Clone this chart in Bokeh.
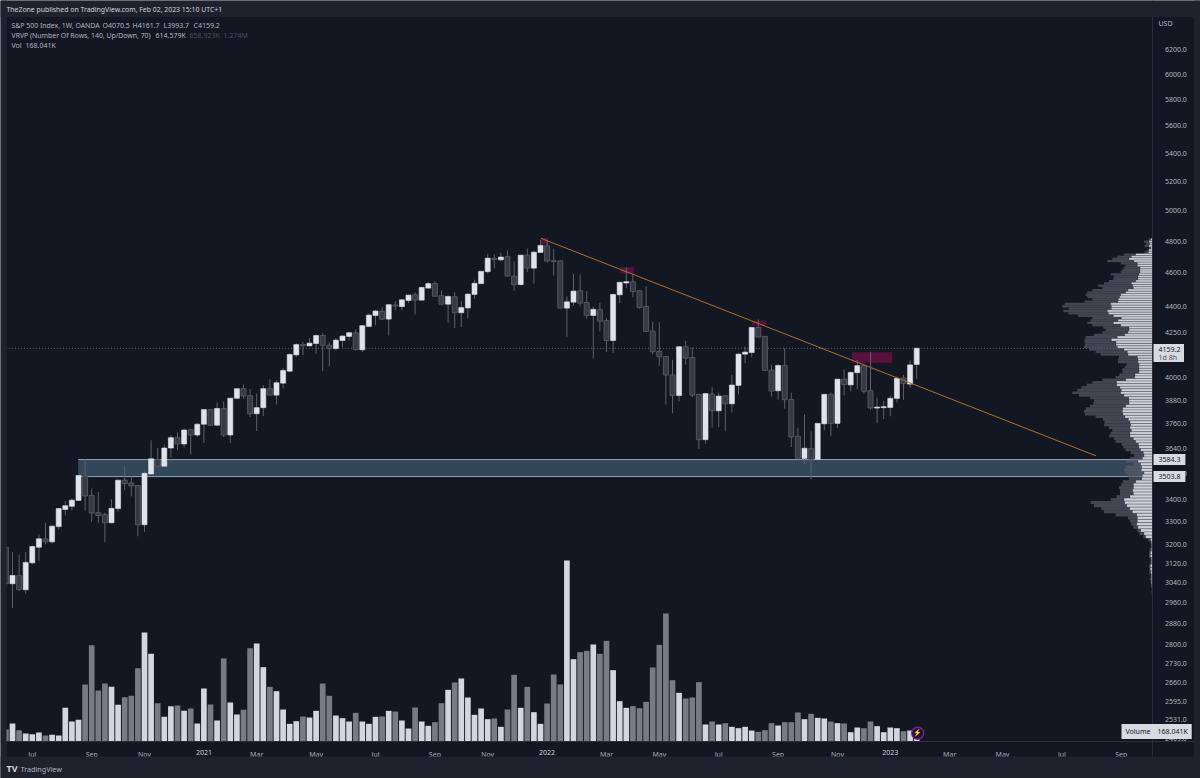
import numpy as np
from bokeh.plotting import figure
from bokeh.models import (Range1d, LinearScale, LinearAxis, FixedTicker, PrintfTickFormatter,
                          Label, BoxAnnotation)
from bokeh.embed import file_html
from bokeh.resources import INLINE

# ---------------- weekly candles (first entry is the bar cut by the left edge)
opens = [3188,
 3036,3069,3012,3122,3188,3224,3211,3277,3353,3367,
 3394,3506,3416,3339,3330,3294,3357,3487,3474,3462,
 3285,3516,3585,3553,3640,3691,3660,3730,3704,3758,
 3832,3753,3838,3704,3890,3941,3904,3811,3842,3941,
 3907,3970,4034,4123,4180,4173,4186,4231,4176,4158,
 4203,4226,4247,4151,4283,4346,4370,4325,4407,4398,
 4434,4468,4436,4508,4535,4462,4412,4456,4362,4390,
 4470,4535,4608,4691,4682,4701,4581,4529,4711,4630,
 4728,4771,4676,4676,4389,4424,4492,4422,4346,4380,
 4317,4203,4468,4539,4547,4492,4398,4256,4142,4114,
 4014,3905,4168,4108,3911,3681,3913,3826,3904,3862,
 3958,4127,4136,4277,4226,4040,3930,4065,3884,3698,
 3590,3637,3585,3760,3911,3762,3991,3961,4026,4065,
 3930,3840,3842,3843,3890,3998,3965,4070.5]
highs = [3188,
 3167,3157,3167,3195,3243,3294,3283,3357,3391,3402,
 3509,3588,3448,3432,3339,3399,3489,3552,3505,3462,
 3528,3678,3640,3657,3703,3716,3732,3735,3763,3832,
 3832,3869,3874,3891,3941,3963,3939,3915,3960,3990,
 3984,4052,4132,4188,4195,4218,4237,4244,4193,4216,
 4233,4250,4267,4287,4356,4376,4395,4412,4430,4442,
 4466,4482,4514,4545,4549,4494,4464,4484,4430,4474,
 4559,4612,4720,4716,4726,4741,4672,4711,4752,4737,
 4810,4810,4752,4676,4458,4593,4591,4490,4398,4420,
 4330,4470,4545,4634,4596,4494,4518,4311,4307,4114,
 4096,4168,4201,4165,3911,3915,3948,3920,3904,4014,
 4132,4170,4279,4323,4226,4069,4074,4160,3920,3740,
 3807,3722,3762,3911,3920,3993,4043,4033,4096,4074,
 4140,3893,3875,3904,4005,4014,4092,4161.7]
lows = [3036,
 2939,3006,2996,3116,3129,3200,3203,3264,3326,3349,
 3391,3349,3297,3294,3210,3292,3342,3440,3412,3235,
 3254,3513,3546,3549,3593,3629,3642,3609,3694,3665,
 3750,3750,3694,3665,3888,3888,3794,3724,3799,3907,
 3859,3942,4031,4112,4121,4170,4129,4034,4061,4147,
 4165,4203,4147,4138,4279,4290,4321,4231,4376,4376,
 4418,4352,4434,4504,4458,4411,4304,4273,4279,4329,
 4444,4535,4596,4628,4672,4579,4492,4526,4606,4535,
 4728,4664,4584,4389,4222,4403,4399,4327,4103,4254,
 4138,4134,4418,4508,4453,4386,4253,4125,4063,3859,
 3813,3874,4070,3896,3635,3662,3740,3743,3722,3818,
 3911,4077,4110,4222,4036,3900,3883,3837,3645,3583,
 3561,3491,3583,3727,3698,3738,3905,3927,3937,3915,
 3832,3763,3784,3798,3869,3883,3946,3993.7]
closes = [3036,
 3070,3012,3124,3191,3224,3211,3279,3357,3370,3395,
 3509,3414,3337,3326,3294,3358,3487,3471,3460,3285,
 3519,3588,3553,3640,3691,3660,3729,3704,3758,3832,
 3753,3838,3704,3891,3941,3902,3811,3842,3941,3907,
 3972,4038,4125,4180,4173,4188,4231,4176,4158,4205,
 4228,4247,4151,4287,4348,4372,4325,4409,4401,4438,
 4466,4436,4512,4535,4459,4412,4458,4362,4392,4472,
 4537,4610,4692,4684,4699,4581,4529,4711,4630,4730,
 4773,4674,4672,4389,4426,4490,4418,4346,4382,4313,
 4203,4470,4543,4547,4488,4392,4254,4140,4112,4013,
 3905,4168,4105,3907,3681,3915,3826,3902,3862,3960,
 4127,4138,4277,4222,4038,3928,4065,3883,3694,3591,
 3639,3585,3762,3911,3762,3991,3963,4027,4064,3927,
 3840,3845,3847,3890,3996,3967,4068,4159.2]
volumes = [720,
 1080,680,480,440,540,360,400,360,2020,1200,
 1300,3420,5780,3060,3480,3280,2200,2660,2740,4400,
 6540,5260,2300,1480,2120,2160,1840,1980,1080,3180,
 2220,1260,4980,2340,1620,1900,5600,5880,4460,3280,
 3020,1920,1060,1220,1500,1440,1840,3480,2740,1560,
 1400,1200,1720,1200,1060,1480,1500,1840,1800,1260,
 780,2040,1200,940,1160,2300,3100,3540,3780,2640,
 1600,1980,1340,1380,880,1920,4000,2020,3280,1760,
 1060,2280,4020,3420,10860,4940,5360,5440,5820,5260,
 6040,4280,2420,2020,2120,2000,2380,4440,5800,7680,
 3680,2920,2580,2640,3560,1020,1200,1020,1100,880,
 800,880,660,580,680,1100,960,1160,1160,1740,
 1340,1660,1420,1380,1200,1100,1080,560,840,800,
 1200,920,560,840,800,620,660,168.041]

# ---------------- visible-range volume profile, top row first
vp_up = [7,12,10,12,7,12,14,52,65,72,57,47,47,39,39,39,42,45,45,52,
 65,61,59,75,82,97,100,104,105,127,125,125,137,134,119,95,105,119,97,72,
 72,75,85,107,125,111,111,107,87,77,75,47,45,45,42,42,42,42,54,55,
 82,109,109,99,95,97,87,73,72,72,82,91,92,90,84,74,
 69,67,69,65,69,69,59,52,44,42,37,29,27,32,45,37,34,35,27,32,
 34,52,59,59,61,59,69,87,85,79,70,62,49,47,47,49,45,37,27,22,
 7,5,4,5,8,8,5,5,8,8,6,5,5,5,4,3,3,2,2,2,1]
vp_down = [5,15,12,13,5,5,11,35,42,50,80,50,35,48,53,58,85,72,74,80,
 82,104,93,107,115,105,97,78,100,138,147,127,132,120,106,87,82,78,85,77,
 70,77,92,95,80,94,94,100,105,95,82,55,60,60,37,43,50,50,47,57,
 70,73,90,116,132,145,135,116,105,107,107,111,115,114,88,76,
 76,80,63,57,58,63,58,60,50,47,45,38,30,37,36,22,48,52,55,43,
 38,39,36,43,38,40,40,40,102,98,85,85,63,28,22,16,14,10,14,7,
 7,2,3,5,4,4,3,3,4,3,5,2,4,2,1,1,1,1,1,1,1]
vp_top_price, vp_bottom_price = 4818, 2938

# ---------------- axis ticks
price_ticks = [6200,6000,5800,5600,5400,5200,5000,4800,4600,4400,4250,4000,3880,3760,3640,
               3520,3400,3300,3200,3120,3040,2960,2880,2800,2730,2660,2595,2531,2469]
time_ticks = [3,12,20,37,46,55,64,72,90,98,107,116,125,142,150,159,168]
time_labels = ["Jul","Sep","Nov","Mar","May","Jul","Sep","Nov","Mar","May",
               "Jul","Sep","Nov","Mar","May","Jul","Sep"]
year_ticks = [29,81,133]
year_labels = ["2021","2022","2023"]

# ---------------- drawings
zone_top, zone_bottom, zone_start = 3584.3, 3503.8, 9.95
trend_x, trend_y = [80.1, 164.2], [4818, 3602]
red_left = [80.1, 92.1, 112.1, 127.2]
red_right = [81.2, 94.2, 114.2, 133.3]
red_top = [4820, 4636, 4317, 4138]
red_bottom = [4780, 4597, 4288, 4080]
last_price = 4159.2

PANE, BAND = "#131722", "#1e222d"
TEXT, DIM, LINE = "#b2b5be", "#4a4e59", "#2a2e39"
UP, DOWN, DOWN_EDGE, WICK = "#e0e3eb", "#363a45", "#5d606b", "#5d606b"
VOL_UP, VOL_DOWN = "#d3d5df", "#787b86"
FONT = "Noto Sans"

# the frame fills the whole picture; the pane and the axis strips are painted inside it
W, H = 1200, 778
PANE_RIGHT, PANE_BOTTOM = 1152.5, 741
x_end_index, x_axis_price = 172.8, 2459

p = figure(width=W, height=H, output_backend="svg", toolbar_location=None,
           x_range=Range1d(-12 / 6.6, (W - 12) / 6.6), y_range=Range1d(2340, 6622),
           y_axis_type="log", x_axis_location="below", y_axis_location="right",
           background_fill_color=PANE, border_fill_color=PANE, outline_line_color=None, tools="",
           min_border=0, min_border_left=0, min_border_right=0, min_border_top=0, min_border_bottom=0)
p.extra_y_ranges = {"vol": Range1d((PANE_BOTTOM - H) * 60, PANE_BOTTOM * 60)}
p.extra_y_scales = {"vol": LinearScale()}
p.extra_x_ranges = {"vp": Range1d(PANE_RIGHT * 3, (PANE_RIGHT - W) * 3)}
p.extra_x_scales = {"vp": LinearScale()}
p.grid.visible = False

ax = p.yaxis[0]
ax.fixed_location = x_end_index
ax.ticker = FixedTicker(ticks=price_ticks)
ax.formatter = PrintfTickFormatter(format="%.1f")
ax.major_tick_line_color = None
ax.minor_tick_line_color = None
ax.axis_line_color = LINE
ax.major_label_text_color = TEXT
ax.major_label_text_font = FONT
ax.major_label_text_font_size = "7px"
ax.major_label_standoff = 6

def style_time_axis(axis, ticks, labels, color):
    axis.fixed_location = x_axis_price
    axis.ticker = FixedTicker(ticks=ticks)
    axis.major_label_overrides = dict(zip(ticks, labels))
    axis.major_tick_line_color = None
    axis.minor_tick_line_color = None
    axis.axis_line_color = LINE
    axis.major_label_text_color = color
    axis.major_label_text_font = FONT
    axis.major_label_text_font_size = "7px"
    axis.major_label_standoff = 3

style_time_axis(p.xaxis[0], time_ticks, time_labels, "#a9acb5")
year_axis = LinearAxis()
style_time_axis(year_axis, year_ticks, year_labels, "#d1d4dc")
p.add_layout(year_axis, "below")

idx = np.arange(-1, len(opens) - 1)
o, h, l, c = map(np.array, (opens, highs, lows, closes))
up = c >= o

# zone, red boxes
p.quad(left=[zone_start], right=[x_end_index], top=[zone_top], bottom=[zone_bottom],
       fill_color="#33475a", fill_alpha=1, line_color=None)
p.multi_line(xs=[[zone_start, x_end_index]] * 2, ys=[[zone_top]*2, [zone_bottom]*2],
             line_color="#8ea3b2", line_width=1)
p.quad(left=red_left, right=red_right, top=red_top, bottom=red_bottom,
       fill_color="#880e4f", fill_alpha=0.6, line_color=None)

# volume
v = np.array(volumes)
p.vbar(x=idx[up], top=v[up], bottom=0, width=0.86, y_range_name="vol",
       fill_color=VOL_UP, line_color=None)
p.vbar(x=idx[~up], top=v[~up], bottom=0, width=0.86, y_range_name="vol",
       fill_color=VOL_DOWN, line_color=None)

# last price line
p.line(x=[-1, x_end_index], y=[last_price]*2, line_color="#787b86", line_width=0.8, line_dash=[1, 2])

# candles
p.segment(x0=idx, x1=idx, y0=l, y1=h, line_color=WICK, line_width=1)
p.vbar(x=idx[up], top=c[up], bottom=o[up], width=0.76, fill_color=UP, line_color=UP, line_width=0.6)
p.vbar(x=idx[~up], top=o[~up], bottom=c[~up], width=0.76, fill_color=DOWN, line_color=DOWN_EDGE, line_width=0.8)

# trend line
p.line(x=trend_x, y=trend_y, line_color="#a8722d", line_width=1)

# volume profile
n = len(vp_up)
edges = np.linspace(vp_top_price, vp_bottom_price, n + 1)
u, d = np.array(vp_up, float), np.array(vp_down, float)
p.quad(left=u, right=u + d, top=edges[:-1], bottom=edges[1:], x_range_name="vp",
       fill_color="#5d606b", fill_alpha=0.65, line_color=None)
p.quad(left=0 * u, right=u, top=edges[:-1], bottom=edges[1:], x_range_name="vp",
       fill_color="#cfd1d9", line_color=PANE, line_width=0.25)

def rect(x0, x1, y_top, y_bottom, color):
    p.add_layout(BoxAnnotation(left=x0, right=x1, top=H - y_top, bottom=H - y_bottom,
                               left_units="screen", right_units="screen", top_units="screen",
                               bottom_units="screen", fill_color=color, fill_alpha=1,
                               line_color=None))

# outer bands, first so that every text lies over them
rect(0, W, 0, 16.5, BAND)
rect(0, W, 756, H, BAND)
rect(0, 6, 0, H, BAND)
rect(1193.5, W, 0, H, BAND)

def txt(text, px, py, size=7, color=TEXT, **kw):
    p.add_layout(Label(x=px, y=H - py, x_units="screen", y_units="screen", text=text,
                       text_color=color, text_font=FONT, text_font_size=f"{size}px",
                       text_baseline="middle", **kw))

# header + legend
txt("TheZone published on TradingView.com, Feb 02, 2023 15:10 UTC+1", 6, 9, 6.9, "#d1d4dc")
txt("S&P 500 Index, 1W, OANDA", 11, 25, 6.9)
txt("O4070.5", 102, 25)
txt("H4161.7", 132, 25)
txt("L3993.7", 163, 25)
txt("C4159.2", 193, 25)
txt("VRVP (Number Of Rows, 140, Up/Down, 70)", 11, 35, 6.9)
txt("614.579K", 155, 35)
txt("658.923K", 189, 35, color=DIM)
txt("1.274M", 223, 35, color=DIM)
txt("Vol", 11, 45)
txt("168.041K", 25, 45)
txt("USD", 1158, 23)

# footer
txt("TV", 6, 768, 9, "#d1d4dc", text_font_style="bold")
txt("TradingView", 20, 768, 7.2, "#b2b5be")

# tags on the axis
TAG = "#d8dae2"
def tag(text, y, y_units="data", px=1153, pad=(5, 3)):
    p.add_layout(Label(x=px, y=y, x_units="screen", y_units=y_units, text=text,
                       text_color=PANE, text_font=FONT, text_font_size="7px",
                       text_baseline="middle", background_fill_color=TAG, padding=pad))
tag("3584.3", zone_top)
tag("3503.8", zone_bottom)
tag("Volume", H - 731, "screen", 1121, (4, 3))
tag("168.041K", H - 731, "screen", 1153, (4, 3))

# last price tag: two lines on one plate
rect(1153, 1183.5, 343.5, 361.5, TAG)
txt("4159.2", 1158, 348.5, 7, PANE)
txt("1d 8h", 1158, 356.8, 7, "#50535e")

# bolt badge on the last volume bar
p.scatter(x=[137.15], y=[495], size=12, marker="circle", y_range_name="vol",
          fill_color="#1a1526", line_color="#7b1fa2", line_width=1.3)
p.text(x=[137.15], y=[495], text=["\u26a1"], y_range_name="vol", text_color="#9c27b0",
       text_font_size="7px", text_align="center", text_baseline="middle", text_font="DejaVu Sans")

open("out.html", "w").write(file_html(p, INLINE))
